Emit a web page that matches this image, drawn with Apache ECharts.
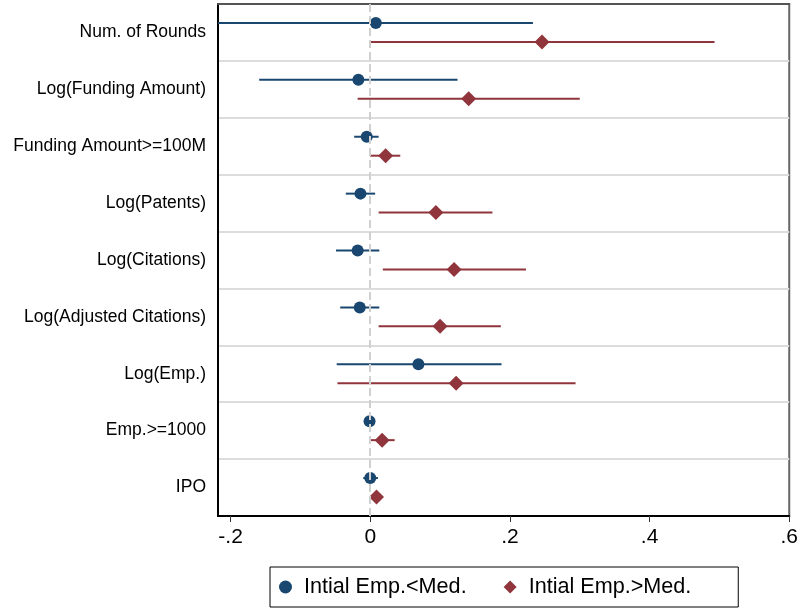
<!DOCTYPE html>
<html>
<head>
<meta charset="utf-8">
<script src="https://cdn.jsdelivr.net/npm/echarts@6/dist/echarts.min.js"></script>
<style>
  html, body { margin: 0; padding: 0; background: #fff; }
  #chart { width: 801px; height: 613px; }
</style>
</head>
<body>
<div id="chart"></div>
<script>
  // outcomes, top to bottom
  const categories = ['Num. of Rounds', 'Log(Funding Amount)', 'Funding Amount>=100M', 'Log(Patents)',
    'Log(Citations)', 'Log(Adjusted Citations)', 'Log(Emp.)', 'Emp.>=1000', 'IPO']
  const xTicks = [-0.2, 0, 0.2, 0.4, 0.6]

  // Intial Emp.<Med.
  const lowEst = [0.008, -0.017, -0.005, -0.014, -0.018, -0.015, 0.069, -0.001, 0.000]
  const lowLo = [-0.22, -0.159, -0.023, -0.035, -0.049, -0.043, -0.048, -0.004, -0.010]
  const lowHi = [0.233, 0.125, 0.012, 0.007, 0.013, 0.013, 0.188, 0.002, 0.011]

  // Intial Emp.>Med.
  const highEst = [0.246, 0.141, 0.022, 0.094, 0.120, 0.100, 0.123, 0.017, 0.009]
  const highLo = [0.000, -0.018, 0.000, 0.012, 0.018, 0.012, -0.047, 0.000, 0.005]
  const highHi = [0.493, 0.300, 0.043, 0.175, 0.223, 0.187, 0.294, 0.035, 0.013]

  const blue = '#1a476f'
  const red = '#90353b'
  const font = "'Liberation Sans', Arial, sans-serif"

  function rows(est, lo, hi) {
    return categories.map((c, i) => [i, lo[i], hi[i], est[i]])
  }

  // draws CI line + marker, shifted up/down inside the category band
  function makeRender(shift, color, marker) {
    return function (params, api) {
      const band = api.size([0, 1])[1]
      const dy = band * shift
      const a = api.coord([api.value(1), api.value(0)])
      const b = api.coord([api.value(2), api.value(0)])
      const c = api.coord([api.value(3), api.value(0)])
      const y = c[1] + dy
      const kids = [{
        type: 'line',
        shape: { x1: a[0], y1: y, x2: b[0], y2: y },
        style: { stroke: color, lineWidth: 2 }
      }]
      if (marker === 'circle') {
        kids.push({ type: 'circle', shape: { cx: c[0], cy: y, r: 6 }, style: { fill: color } })
      } else {
        const r = 7.5
        kids.push({
          type: 'polygon',
          shape: { points: [[c[0], y - r], [c[0] + r, y], [c[0], y + r], [c[0] - r, y]] },
          style: { fill: color }
        })
      }
      return { type: 'group', children: kids }
    }
  }

  const chart = echarts.init(document.getElementById('chart'))
  chart.setOption({
    animation: false,
    grid: {
      left: 218, right: 10, top: 4, bottom: 97,
      show: true, borderColor: '#666', borderWidth: 2
    },
    legend: {
      left: 270, top: 567,
      orient: 'horizontal',
      padding: [9, 47, 9, 9],
      borderColor: '#000', borderWidth: 1,
      itemWidth: 13, itemHeight: 13,
      itemGap: 37,
      textStyle: { fontFamily: font, fontSize: 21.6, color: '#000', padding: [0, 0, 0, 7] },
      data: [
        { name: 'Intial Emp.<Med.', icon: 'circle', itemStyle: { color: blue } },
        { name: 'Intial Emp.>Med.', icon: 'diamond', itemStyle: { color: red } }
      ]
    },
    xAxis: [
      {
        type: 'value',
        min: -0.218, max: 0.6,
        splitLine: { show: false },
        axisLine: { show: true, onZero: false, lineStyle: { color: '#000', width: 2 } },
        axisTick: { show: true, length: 6, customValues: xTicks, lineStyle: { color: '#333', width: 1 } },
        axisLabel: {
          customValues: xTicks,
          fontFamily: font, fontSize: 21, color: '#000', margin: 11,
          formatter: v => v === 0 ? '0' : String(Math.round(v * 10) / 10).replace('0.', '.')
        }
      },
      {
        // top frame line
        type: 'value',
        position: 'top',
        min: -0.218, max: 0.6,
        splitLine: { show: false },
        axisLine: { show: true, onZero: false, lineStyle: { color: '#555', width: 2 } },
        axisTick: { show: false },
        axisLabel: { show: false }
      }
    ],
    yAxis: {
      type: 'category',
      inverse: true,
      data: categories,
      axisLine: { show: true, onZero: false, lineStyle: { color: '#000', width: 2 } },
      axisTick: { show: false },
      splitLine: { show: true, interval: 0, lineStyle: { color: '#dcdcdc', width: 2 } },
      axisLabel: { fontFamily: font, fontSize: 17.5, color: '#000', margin: 12, interval: 0 }
    },
    series: [
      {
        name: 'zero',
        type: 'line',
        data: [],
        z: 1,
        markLine: {
          silent: true,
          symbol: 'none',
          label: { show: false },
          lineStyle: { color: '#d0d0d0', width: 2, type: [8, 4] },
          data: [{ xAxis: 0 }]
        }
      },
      {
        name: 'Intial Emp.<Med.',
        type: 'custom',
        clip: true,
        z: 3,
        itemStyle: { color: blue },
        renderItem: makeRender(-1 / 6, blue, 'circle'),
        encode: { x: [1, 2, 3], y: 0 },
        data: rows(lowEst, lowLo, lowHi)
      },
      {
        name: 'Intial Emp.>Med.',
        type: 'custom',
        clip: true,
        z: 3,
        itemStyle: { color: red },
        renderItem: makeRender(1 / 6, red, 'diamond'),
        encode: { x: [1, 2, 3], y: 0 },
        data: rows(highEst, highLo, highHi)
      }
    ]
  })
</script>
</body>
</html>
